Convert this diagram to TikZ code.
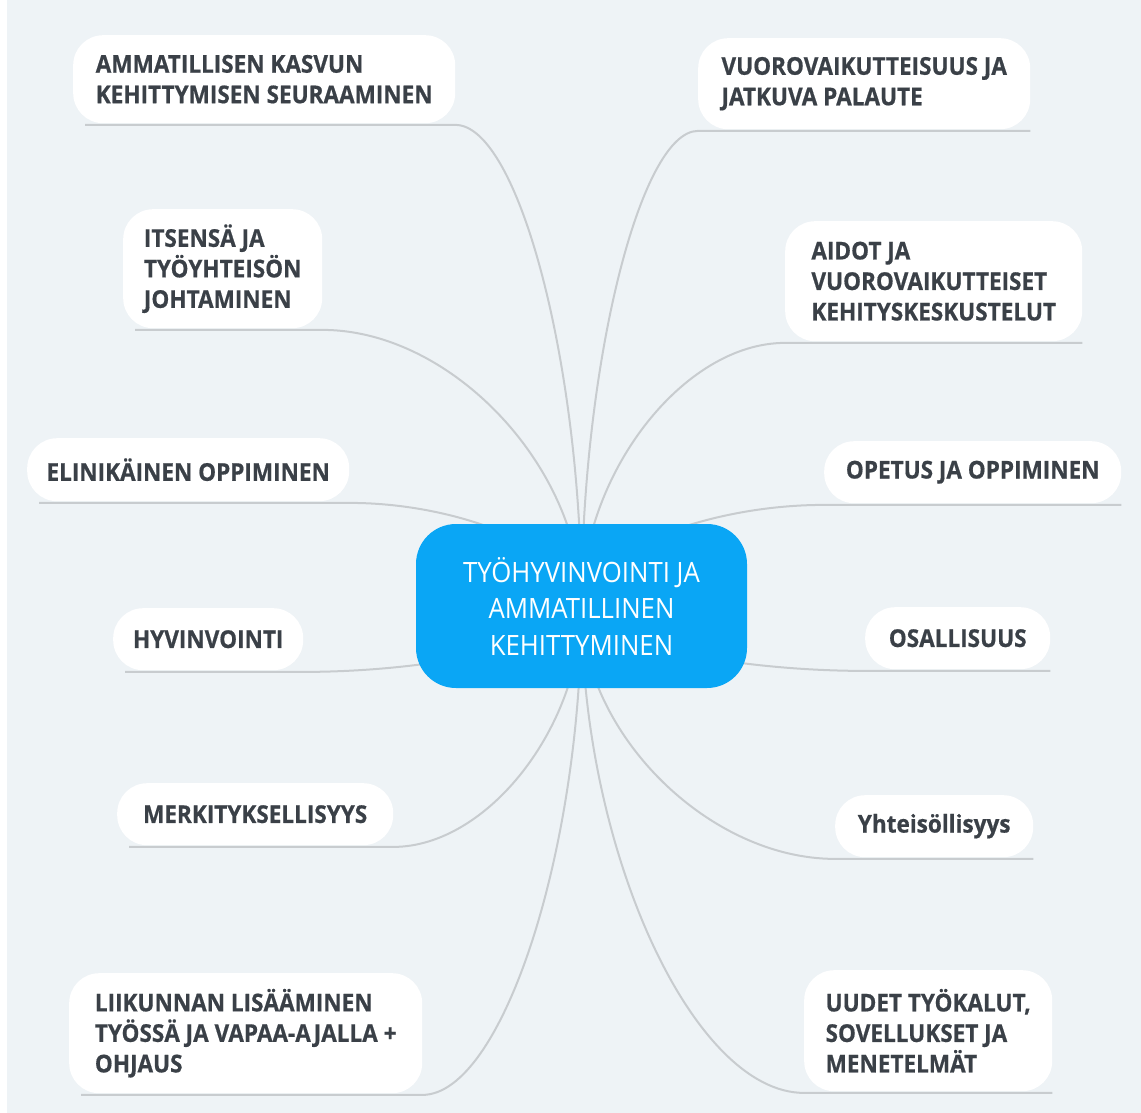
\documentclass[tikz,border=0pt]{standalone}
\usepackage{fontspec}
\setmainfont[FakeStretch=0.92, BoldFeatures={FakeBold=0.6}]{Open Sans}
\usetikzlibrary{calc}
\pgfdeclarelayer{background}
\pgfsetlayers{background,main}
\definecolor{bgcol}{HTML}{EEF3F6}
\definecolor{rootblue}{HTML}{0AA6F5}
\definecolor{ink}{HTML}{3A4047}
\definecolor{wirecol}{HTML}{C8CCCF}
\newcommand\mmlink[4]{%
  \coordinate (#1a) at ([yshift=-1.5pt]#1.#2);
  \coordinate (#1z) at ([xshift=#4,yshift=-1.5pt]#1.#3);
  \coordinate (#1m) at ($(root.center)!0.5!(#1a)$);
  \draw[wire] (root.center) .. controls (root.center |- #1m) and (#1m |- #1a) .. (#1a) -- (#1z);
}
\begin{document}
\begin{tikzpicture}[x=1pt,y=-1pt,
  leaf/.style={fill=white, rounded corners=30pt, inner xsep=0pt, inner ysep=0pt,
    align=left, anchor=north west, text=ink,
    font=\bfseries\fontsize{24.5}{30.5}\selectfont},
  wire/.style={draw=wirecol, line width=2pt},
  rootbox/.style={fill=rootblue, rounded corners=40pt, inner sep=0pt, text=white,
    align=center, minimum width=331pt, minimum height=164pt,
    font=\fontsize{28}{36.5}\selectfont}]
\useasboundingbox (0,0) rectangle (1141,1113);
\node[rootbox] (root) at (581.5,606) {TYÖHYVINVOINTI JA\\AMMATILLINEN\\KEHITTYMINEN};
% left
\node[leaf, minimum width=382pt, minimum height=88pt] (b1) at (73,35) {AMMATILLISEN KASVUN\\KEHITTYMISEN SEURAAMINEN};
\node[leaf, minimum width=199pt, minimum height=119pt] (b2) at (123,209) {ITSENSÄ JA\\TYÖYHTEISÖN\\JOHTAMINEN};
\node[leaf, minimum width=322pt, minimum height=63pt] (b3) at (27,438) {ELINIKÄINEN OPPIMINEN};
\node[leaf, minimum width=190pt, minimum height=62pt] (b4) at (113,608) {HYVINVOINTI};
\node[leaf, minimum width=276pt, minimum height=62pt] (b5) at (117,783) {MERKITYKSELLISYYS};
\node[leaf, minimum width=353pt, minimum height=120pt] (b6) at (69,973) {LIIKUNNAN LISÄÄMINEN\\TYÖSSÄ JA VAPAA-AJALLA +\\OHJAUS};
% right
\node[leaf, minimum width=332pt, minimum height=91pt] (b7) at (698,38) {VUOROVAIKUTTEISUUS JA\\JATKUVA PALAUTE};
\node[leaf, minimum width=297pt, minimum height=120pt] (b8) at (785,221) {AIDOT JA\\VUOROVAIKUTTEISET\\KEHITYSKESKUSTELUT};
\node[leaf, minimum width=297pt, minimum height=62pt] (b9) at (824,441) {OPETUS JA OPPIMINEN};
\node[leaf, minimum width=185pt, minimum height=62pt] (b10) at (865,607) {OSALLISUUS};
\node[leaf, minimum width=198pt, minimum height=62pt] (b11) at (835,795) {Yhteisöllisyys};
\node[leaf, minimum width=248pt, minimum height=121pt] (b12) at (804,970) {UUDET TYÖKALUT,\\SOVELLUKSET JA\\MENETELMÄT};
\begin{pgfonlayer}{background}
  \fill[white] (0,0) rectangle (1141,1113);
  \fill[bgcol] (7,0) rectangle (1141,1113);
  \mmlink{b1}{south east}{south west}{12pt}
  \mmlink{b2}{south east}{south west}{12pt}
  \mmlink{b3}{south east}{south west}{12pt}
  \mmlink{b4}{south east}{south west}{12pt}
  \mmlink{b5}{south east}{south west}{12pt}
  \mmlink{b6}{south east}{south west}{12pt}
  \mmlink{b7}{south west}{south east}{0pt}
  \mmlink{b8}{south west}{south east}{0pt}
  \mmlink{b9}{south west}{south east}{0pt}
  \mmlink{b10}{south west}{south east}{0pt}
  \mmlink{b11}{south west}{south east}{0pt}
  \mmlink{b12}{south west}{south east}{0pt}
\end{pgfonlayer}
\end{tikzpicture}
\end{document}
